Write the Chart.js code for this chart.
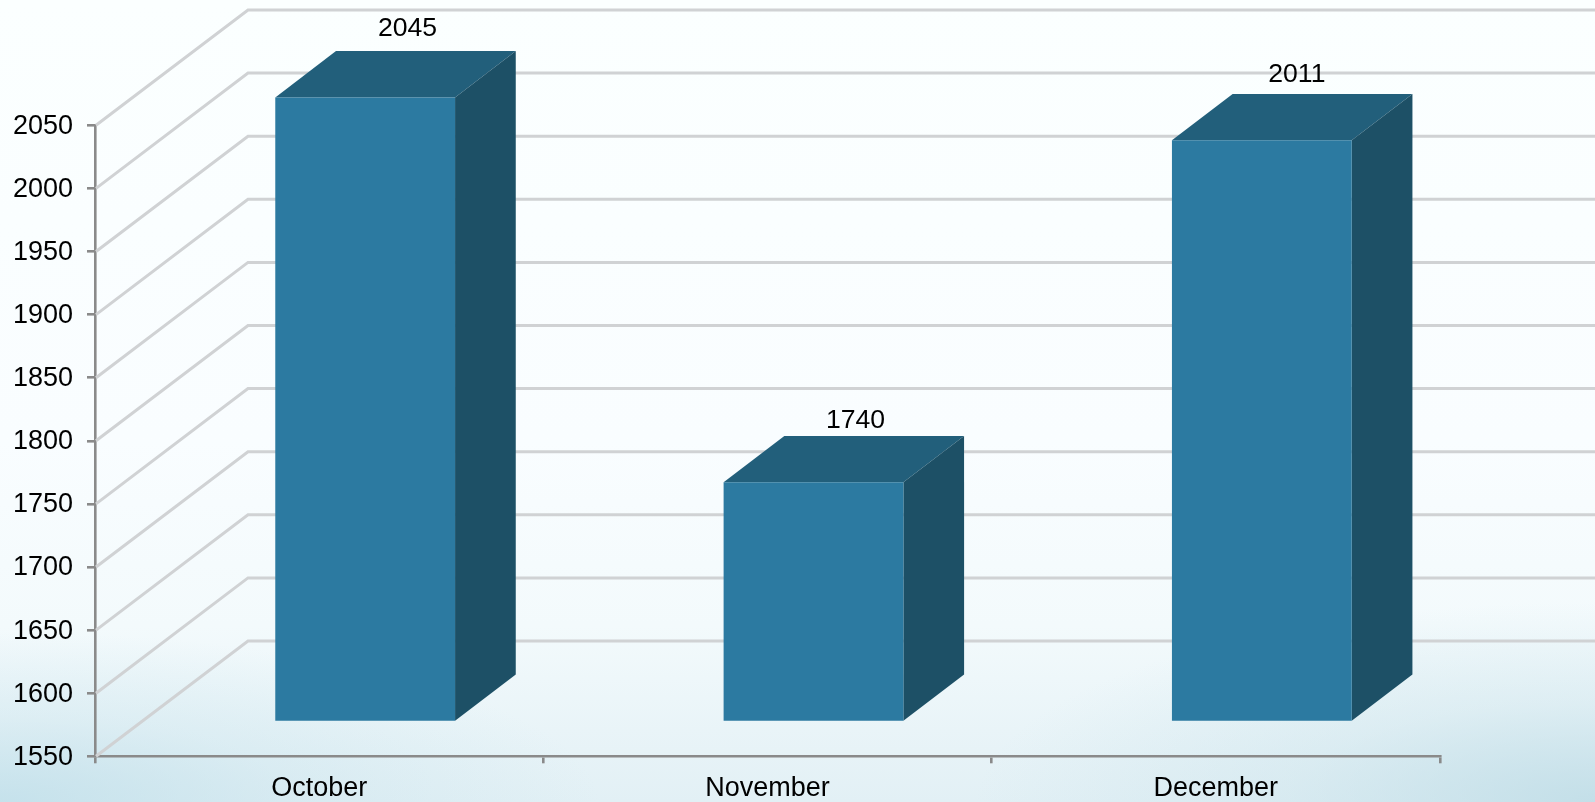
<!DOCTYPE html>
<html>
<head>
<meta charset="utf-8">
<title>Chart</title>
<script src="https://cdn.jsdelivr.net/npm/chart.js@4/dist/chart.umd.min.js"></script>
<style>
html, body { margin: 0; padding: 0; width: 1595px; height: 802px; overflow: hidden; }
body {
    background:
        radial-gradient(ellipse 600px 170px at 0px 802px, rgba(190,222,233,0.8) 0%, rgba(190,222,233,0.3) 50%, rgba(190,222,233,0) 100%),
        radial-gradient(ellipse 620px 200px at 1595px 802px, rgba(190,220,230,0.85) 0%, rgba(190,220,230,0.3) 50%, rgba(190,220,230,0) 100%),
        linear-gradient(to bottom, #fbffff 0%, #f9fdff 55%, #f3fafc 78%, #e2f0f5 100%);
}
canvas { display: block; }
</style>
</head>
<body>
<canvas id="barChart" width="1595" height="802"></canvas>
<script>
const categories = ['October', 'November', 'December'];
const values = [2045, 1740, 2011];
const tickValues = [1550, 1600, 1650, 1700, 1750, 1800, 1850, 1900, 1950, 2000, 2050];

// depth of the fake 3D box
const wallDx = 153, wallDy = 115.3;
const barShiftX = 46, barShiftY = 34.2;
const depthX = 60.7, depthY = 46.3;
// label nudges from the top of the front face centre
const labelNudge = [[42.3, -69.2], [42, -61.2], [35, -65.4]];

const box3d = {
    id: 'box3d',
    beforeDraw(chart) {
        // tick text sits a little low in the original
        chart.scales.y.getLabelItems().forEach(item => { item.options.translation[1] += 1; });
    },
    beforeDatasetsDraw(chart) {
        const ctx = chart.ctx, y = chart.scales.y, area = chart.chartArea;
        ctx.save();
        ctx.strokeStyle = '#d0d2d4';
        ctx.lineWidth = 3;
        tickValues.forEach(v => {
            const py = y.getPixelForValue(v);
            ctx.beginPath();
            ctx.moveTo(area.left + 1, py);
            ctx.lineTo(area.left + wallDx, py - wallDy);
            ctx.lineTo(chart.width, py - wallDy);
            ctx.stroke();
        });
        ctx.restore();

        // side and top of each bar, then move the front faces back into the box
        const bars = chart.getDatasetMeta(0).data;
        ctx.save();
        bars.forEach(bar => {
            const left = bar.x - bar.width / 2 + barShiftX;
            const right = bar.x + bar.width / 2 + barShiftX;
            const top = bar.y - barShiftY;
            const bottom = bar.base - barShiftY;
            ctx.fillStyle = '#225f7b';
            ctx.beginPath();
            ctx.moveTo(left, top);
            ctx.lineTo(left + depthX, top - depthY);
            ctx.lineTo(right + depthX, top - depthY);
            ctx.lineTo(right, top);
            ctx.closePath();
            ctx.fill();
            ctx.fillStyle = '#1d5066';
            ctx.beginPath();
            ctx.moveTo(right, top);
            ctx.lineTo(right + depthX, top - depthY);
            ctx.lineTo(right + depthX, bottom - depthY);
            ctx.lineTo(right, bottom);
            ctx.closePath();
            ctx.fill();
        });
        ctx.restore();
        ctx.save();
        ctx.translate(barShiftX, -barShiftY);
    },
    afterDatasetsDraw(chart) {
        const ctx = chart.ctx;
        ctx.restore();
        ctx.save();
        ctx.fillStyle = '#000000';
        ctx.font = '26.6px "Liberation Sans"';
        ctx.textAlign = 'center';
        ctx.textBaseline = 'middle';
        chart.getDatasetMeta(0).data.forEach((bar, i) => {
            ctx.fillText(String(values[i]), bar.x + barShiftX + labelNudge[i][0], bar.y - barShiftY + labelNudge[i][1]);
        });
        ctx.restore();
    }
};

new Chart(document.getElementById('barChart').getContext('2d'), {
    type: 'bar',
    data: {
        labels: categories,
        datasets: [{
            data: values,
            base: tickValues[0],
            backgroundColor: '#2c7aa1',
            borderWidth: 0,
            categoryPercentage: 0.401,
            barPercentage: 1,
            clip: false
        }]
    },
    plugins: [box3d],
    options: {
        responsive: false,
        animation: false,
        layout: { padding: { top: 125.3, right: 155, bottom: 0, left: 0 } },
        plugins: { legend: { display: false }, tooltip: { enabled: false } },
        scales: {
            x: {
                afterFit(scale) { scale.height = 45.7; },
                border: { color: '#8a8a8a', width: 2.6 },
                grid: { drawOnChartArea: false, color: '#8a8a8a', lineWidth: 2.6, tickLength: 7 },
                ticks: { color: '#000000', font: { family: 'Liberation Sans', size: 27 }, padding: 9, maxRotation: 0 }
            },
            y: {
                min: 1550,
                max: 2050,
                afterFit(scale) { scale.width = 95; },
                afterBuildTicks(scale) { scale.ticks = tickValues.map(v => ({ value: v })); },
                border: { color: '#8a8a8a', width: 2.6 },
                grid: { drawOnChartArea: false, color: '#8a8a8a', lineWidth: 2.6, tickLength: 8 },
                ticks: {
                    color: '#000000',
                    font: { family: 'Liberation Sans', size: 27 },
                    padding: 14,
                    callback: v => String(v)
                }
            }
        }
    }
});
</script>
</body>
</html>
